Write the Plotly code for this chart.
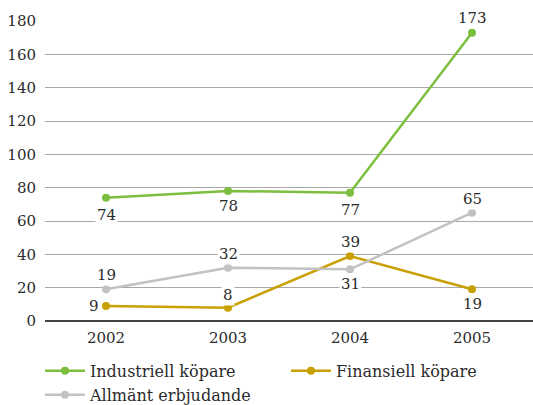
import plotly.graph_objects as go

years = ["2002", "2003", "2004", "2005"]
industriell = [74, 78, 77, 173]
finansiell = [9, 8, 39, 19]
allmant = [19, 32, 31, 65]

y_ticks = [0, 20, 40, 60, 80, 100, 120, 140, 160, 180]

GREEN = "#7cbf3f"
GOLD = "#c9a002"
GREY = "#c2c2c4"
FONT = "DejaVu Serif"
TEXT = "#2b2b2b"

series = [
    ("Industriell köpare", industriell, GREEN),
    ("Finansiell köpare", finansiell, GOLD),
    ("Allmänt erbjudande", allmant, GREY),
]

fig = go.Figure()
for name, vals, col in series:
    fig.add_trace(go.Scatter(
        x=years, y=vals, name=name, mode="lines+markers",
        line=dict(color=col, width=2.5),
        marker=dict(color=col, size=8),
        hoverinfo="skip",
    ))

# value labels: (series values, index, x shift, y shift)
label_spec = [
    (industriell, 0, 0, -17), (industriell, 1, 0, -15),
    (industriell, 2, 0, -17), (industriell, 3, 0, 15),
    (allmant, 0, 0, 14), (allmant, 1, 0, 14),
    (allmant, 2, 0, -15), (allmant, 3, 0, 14),
    (finansiell, 0, -12, 0), (finansiell, 1, 0, 13),
    (finansiell, 2, 0, 14), (finansiell, 3, 0, -15),
]
for vals, i, dx, dy in label_spec:
    fig.add_annotation(
        x=i, y=vals[i], xref="x", yref="y", text=str(vals[i]),
        showarrow=False, xshift=dx, yshift=dy,
        bgcolor="white", borderpad=1,
        font=dict(family=FONT, size=15, color=TEXT),
    )

fig.update_layout(
    width=533, height=405,
    margin=dict(l=45, r=0, t=21, b=84, autoexpand=False),
    paper_bgcolor="white", plot_bgcolor="white",
    font=dict(family=FONT, size=15, color=TEXT),
    showlegend=True,
    legend=dict(
        orientation="h", xref="container", x=0.075, xanchor="left",
        yref="container", y=0.126, yanchor="top",
        entrywidth=191, entrywidthmode="pixels", itemwidth=40,
        font=dict(family=FONT, size=16, color=TEXT),
        tracegroupgap=0,
    ),
    xaxis=dict(
        type="category", range=[-0.5, 3.5], showgrid=False,
        showline=False, ticks="", tickfont=dict(size=15),
        ticklabelstandoff=6,
    ),
    yaxis=dict(
        range=[0, 180], tickvals=y_ticks, showgrid=True,
        gridcolor="#a8a8a8", gridwidth=1,
        zeroline=True, zerolinecolor="#444444", zerolinewidth=1.5,
        showline=False, ticks="", tickfont=dict(size=15),
        ticklabelstandoff=8,
    ),
)

fig.write_html("out.html")
